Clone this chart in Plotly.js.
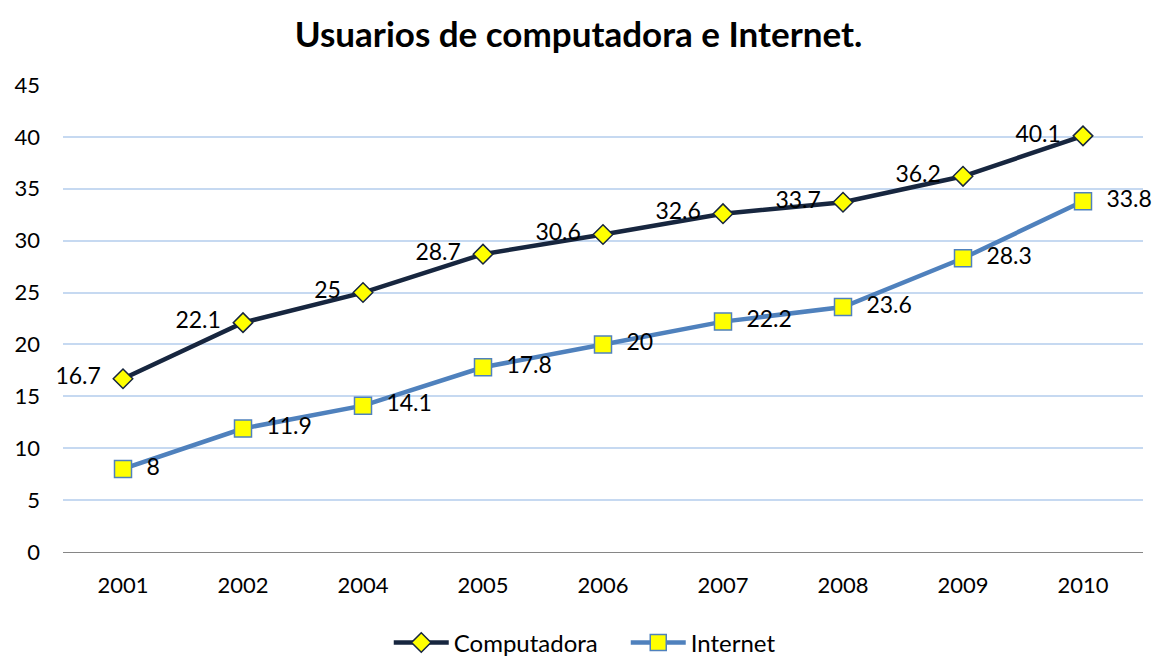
<!DOCTYPE html>
<html>
<head>
<meta charset="utf-8">
<script src="https://cdn.plot.ly/plotly-3.0.1.min.js"></script>
<style>body{margin:0;background:#fff;}#plot{width:1157px;height:656px;}</style>
</head>
<body>
<div id="plot"></div>
<script>
// Years on the category axis
var years = ["2001", "2002", "2004", "2005", "2006", "2007", "2008", "2009", "2010"];

// Series values
var computadora = [16.7, 22.1, 25, 28.7, 30.6, 32.6, 33.7, 36.2, 40.1];
var internet = [8, 11.9, 14.1, 17.8, 20, 22.2, 23.6, 28.3, 33.8];

var fontFam = "Lato, 'Open Sans', sans-serif";
var nb = "\u00a0";

var trace1 = {
    x: years,
    y: computadora,
    name: "Computadora",
    type: "scatter",
    mode: "lines+markers+text",
    text: computadora.map(v => v + nb + nb),
    textposition: "middle left",
    textfont: { size: 23, color: "#000", family: fontFam },
    cliponaxis: false,
    line: { color: "#17263f", width: 4.5 },
    marker: { symbol: "diamond", size: 15, color: "#ffff00", line: { color: "#17263f", width: 1.5 } }
};

var trace2 = {
    x: years,
    y: internet,
    name: "Internet",
    type: "scatter",
    mode: "lines+markers+text",
    text: internet.map(v => nb + nb + v),
    textposition: "middle right",
    textfont: { size: 23, color: "#000", family: fontFam },
    cliponaxis: false,
    line: { color: "#4f81bd", width: 4.5 },
    marker: { symbol: "square", size: 17, color: "#ffff00", line: { color: "#4f81bd", width: 1.5 } }
};

var layout = {
    title: {
        text: "<b>Usuarios de computadora e Internet.</b>",
        font: { size: 35, family: fontFam, color: "#000" },
        x: 0.5,
        xanchor: "center",
        y: 0.947,
        yanchor: "middle"
    },
    font: { family: fontFam, color: "#000" },
    margin: { l: 63, r: 14, t: 85, b: 104 },
    xaxis: {
        type: "category",
        range: [-0.5, 8.5],
        showgrid: false,
        showline: true,
        linecolor: "#868686",
        linewidth: 1,
        ticks: "",
        ticklabelstandoff: 14,
        tickfont: { size: 22 }
    },
    yaxis: {
        range: [0, 45],
        dtick: 5,
        showgrid: true,
        gridcolor: "#c6d9f1",
        gridwidth: 1.5,
        zeroline: false,
        ticks: "",
        ticklabelstandoff: 22,
        tickfont: { size: 22 }
    },
    legend: {
        orientation: "h",
        x: 0.336,
        xanchor: "left",
        xref: "container",
        y: 0.02,
        yanchor: "middle",
        yref: "container",
        itemwidth: 55,
        entrywidth: 167,
        font: { size: 24 }
    },
    showlegend: true,
    plot_bgcolor: "#fff",
    paper_bgcolor: "#fff"
};

Plotly.newPlot("plot", [trace1, trace2], layout, { displayModeBar: false });
</script>
</body>
</html>
